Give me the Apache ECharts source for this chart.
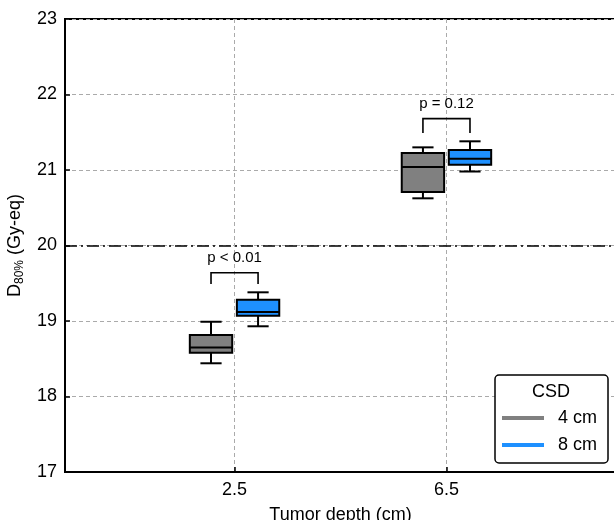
<!DOCTYPE html>
<html>
<head>
<meta charset="utf-8">
<script src="https://cdn.jsdelivr.net/npm/echarts@6/dist/echarts.min.js"></script>
<style>html,body{margin:0;padding:0;background:#fff}#c{width:614px;height:520px}</style>
</head>
<body>
<div id="c"></div>
<script>
// ---- data ----
const depths = ['2.5', '6.5'];
// [min, q1, median, q3, max]
const csd4 = [[18.44, 18.58, 18.65, 18.815, 18.99], [20.625, 20.71, 21.04, 21.225, 21.30]];
const csd8 = [[18.93, 19.07, 19.12, 19.28, 19.38], [20.98, 21.07, 21.15, 21.265, 21.38]];
const pLabels = ['p < 0.01', 'p = 0.12'];
const bracketBase = [19.49, 21.49];
const bracketTop = [19.64, 21.68];
const threshold = 20;
const yTicks = [17, 18, 19, 20, 21, 22, 23];

const FONT = 'Liberation Sans, Arial, sans-serif';
const BOX_W = 0.2, OFF = 0.111;

function boxRender(offset) {
  return function (params, api) {
    const xc = api.value(0) + offset;
    const lo = api.value(1), q1 = api.value(2), med = api.value(3), q3 = api.value(4), hi = api.value(5);
    const w = api.size([BOX_W, 0])[0];
    const pLo = api.coord([xc, lo]), pQ1 = api.coord([xc, q1]), pMed = api.coord([xc, med]),
          pQ3 = api.coord([xc, q3]), pHi = api.coord([xc, hi]);
    const cx = pLo[0];
    const ls = {stroke: '#000', lineWidth: 2};
    const cap = w / 4;
    return {
      type: 'group',
      children: [
        {type: 'line', shape: {x1: cx, y1: pLo[1], x2: cx, y2: pQ1[1]}, style: ls},
        {type: 'line', shape: {x1: cx, y1: pQ3[1], x2: cx, y2: pHi[1]}, style: ls},
        {type: 'line', shape: {x1: cx - cap, y1: pLo[1], x2: cx + cap, y2: pLo[1]}, style: ls},
        {type: 'line', shape: {x1: cx - cap, y1: pHi[1], x2: cx + cap, y2: pHi[1]}, style: ls},
        {type: 'rect', shape: {x: cx - w / 2, y: pQ3[1], width: w, height: pQ1[1] - pQ3[1]},
          style: {fill: api.visual('color'), stroke: '#000', lineWidth: 2}},
        {type: 'line', shape: {x1: cx - w / 2, y1: pMed[1], x2: cx + w / 2, y2: pMed[1]}, style: ls}
      ]
    };
  };
}

function bracketRender(params, api) {
  const x = api.value(0), base = api.value(1), top = api.value(2);
  const a = api.coord([x - OFF, base]), b = api.coord([x - OFF, top]);
  const c = api.coord([x + OFF, top]), d = api.coord([x + OFF, base]);
  const mid = api.coord([x, top]);
  return {
    type: 'group',
    children: [
      {type: 'polyline', shape: {points: [a, b, c, d]}, style: {stroke: '#000', lineWidth: 1.6, fill: null}},
      {type: 'text', x: mid[0], y: mid[1] - 15,
        style: {text: pLabels[params.dataIndex], fontSize: 15, fontFamily: FONT, fill: '#000',
          align: 'center', verticalAlign: 'middle'}}
    ]
  };
}

const data4 = csd4.map((r, i) => [i].concat(r));
const data8 = csd8.map((r, i) => [i].concat(r));
const bracketData = depths.map((d, i) => [i, bracketBase[i], bracketTop[i]]);

const chart = echarts.init(document.getElementById('c'), null, {renderer: 'canvas'});
chart.setOption({
  animation: false,
  backgroundColor: '#fff',
  textStyle: {fontFamily: FONT},
  grid: {left: 65, top: 19, width: 551, height: 453, show: true, borderColor: '#000', borderWidth: 2,
    backgroundColor: 'transparent', containLabel: false, outerBoundsMode: 'none'},
  xAxis: {
    type: 'value', min: -0.8, max: 1.8,
    name: 'Tumor depth (cm)', nameLocation: 'middle', nameGap: 34,
    nameTextStyle: {fontSize: 18, color: '#000', fontFamily: FONT},
    axisLine: {onZero: false, lineStyle: {color: '#000', width: 2}},
    axisTick: {inside: true, length: 5, lineStyle: {color: '#000', width: 1.5}, customValues: [0, 1]},
    axisLabel: {customValues: [0, 1], formatter: v => depths[Math.round(v)] || '', fontSize: 18, color: '#000',
      margin: 9, fontFamily: FONT},
    splitLine: {show: true, lineStyle: {color: '#aaa', width: 1, type: [4, 3]}}
  },
  yAxis: {
    type: 'value', min: 17, max: 23, interval: 1,
    name: '{a|D}{b|80%}{a| (Gy-eq)}', nameLocation: 'middle', nameGap: 39, nameRotate: 90,
    nameMoveOverlap: false,
    nameTextStyle: {
      color: '#000',
      rich: {
        a: {fontSize: 18, fontFamily: FONT, color: '#000', lineHeight: 22},
        b: {fontSize: 12, fontFamily: FONT, color: '#000', verticalAlign: 'bottom', lineHeight: 14}
      }
    },
    axisLine: {show: true, onZero: false, lineStyle: {color: '#000', width: 2}},
    axisTick: {inside: true, length: 5, lineStyle: {color: '#000', width: 1.5}},
    axisLabel: {fontSize: 18, color: '#000', margin: 8, fontFamily: FONT,
      formatter: v => (yTicks.indexOf(v) >= 0 ? String(v) : '')},
    splitLine: {show: true, lineStyle: {color: '#aaa', width: 1, type: [4, 3]}}
  },
  legend: {
    data: [{name: '4 cm', icon: 'rect'}, {name: '8 cm', icon: 'rect'}],
    orient: 'vertical', left: 495, top: 375,
    padding: [33, 11, 8, 7], itemGap: 7, itemWidth: 42, itemHeight: 4,
    borderColor: '#000', borderWidth: 1.5, borderRadius: 4, backgroundColor: '#fff',
    textStyle: {fontSize: 18, color: '#000', fontFamily: FONT, lineHeight: 20, padding: [0, 0, 0, 9]},
    selectedMode: false
  },
  graphic: [{
    type: 'text', left: 551 - 19, top: 383, z: 100,
    style: {text: 'CSD', fontSize: 18, fontFamily: FONT, fill: '#000'}
  }],
  series: [
    {name: '4 cm', type: 'custom', renderItem: boxRender(-OFF), data: data4,
      itemStyle: {color: '#808080'}, encode: {x: 0, y: [1, 2, 3, 4, 5]}, z: 3},
    {name: '8 cm', type: 'custom', renderItem: boxRender(OFF), data: data8,
      itemStyle: {color: '#1E90FF'}, encode: {x: 0, y: [1, 2, 3, 4, 5]}, z: 3},
    {name: 'brackets', type: 'custom', renderItem: bracketRender, data: bracketData,
      encode: {x: 0, y: [1, 2]}, z: 3,
      markLine: {silent: true, symbol: 'none', label: {show: false},
        lineStyle: {color: '#000', width: 1.6, type: [12, 4, 2, 4]},
        data: [{yAxis: threshold}]}}
  ]
});
</script>
</body>
</html>
